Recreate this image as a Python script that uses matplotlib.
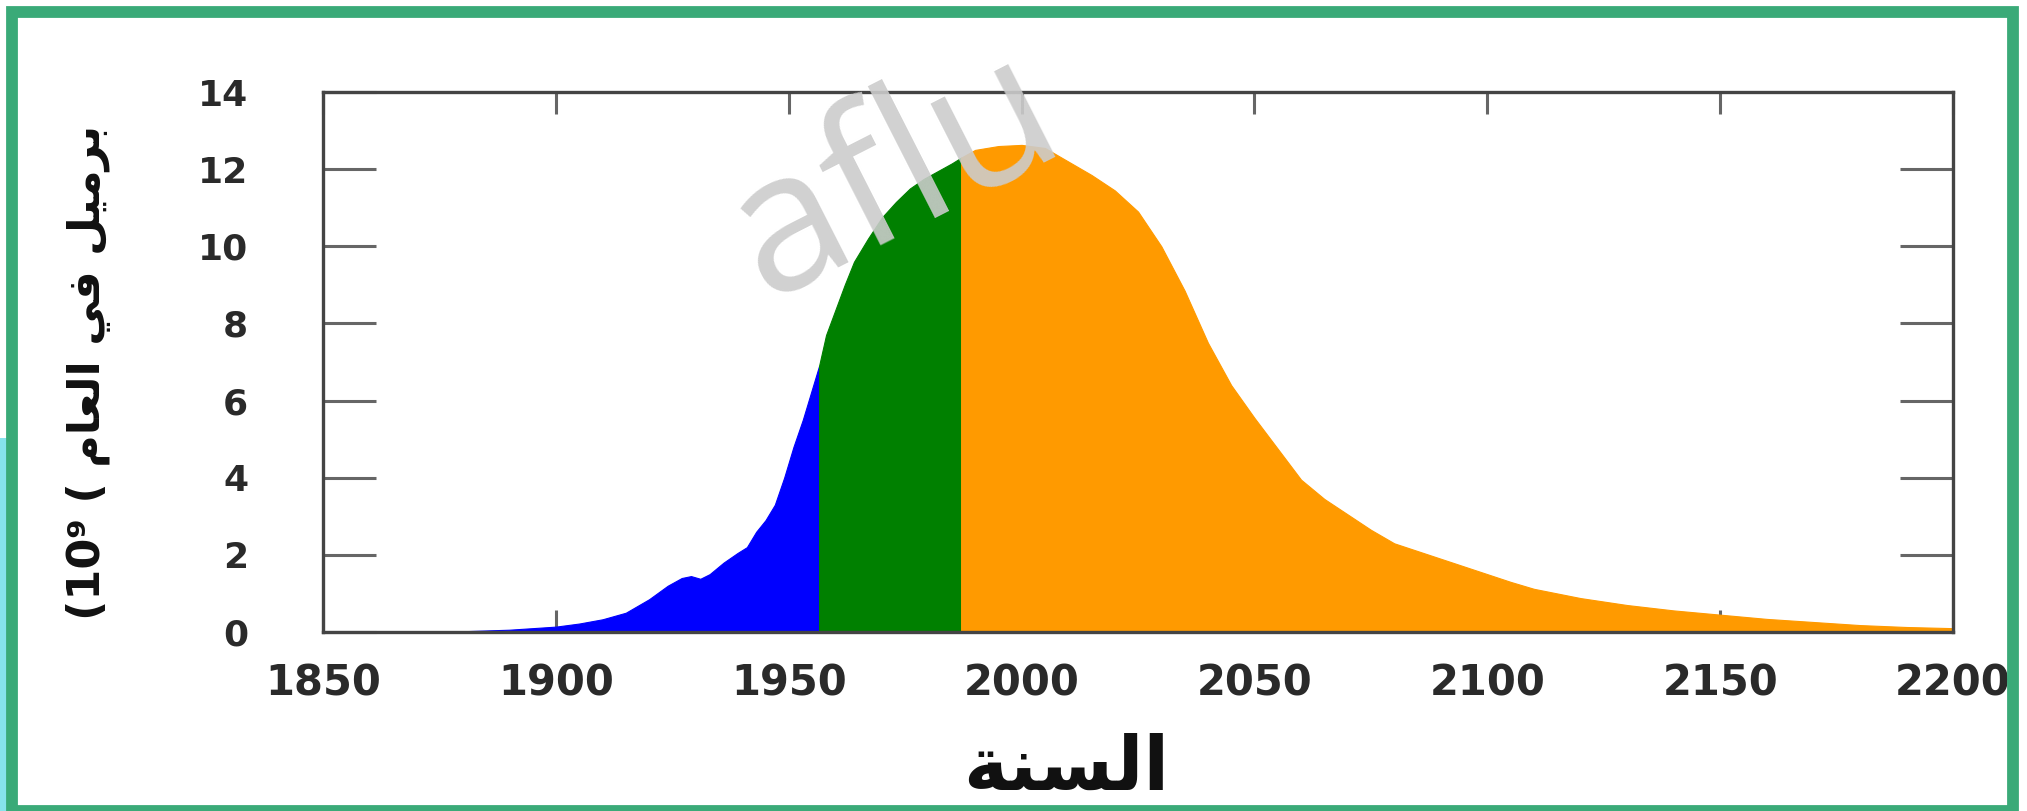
import matplotlib

matplotlib.use("Agg")
import matplotlib.pyplot as plt
from matplotlib.patches import Rectangle

# production curve (10^9 barrels per year)
years_hist = [1850, 1870, 1880, 1890, 1900, 1905, 1910, 1915, 1920, 1924, 1927, 1929,
              1931, 1933, 1936, 1939, 1941, 1943, 1945, 1947, 1949, 1951, 1953, 1955, 1956.5]
vals_hist = [0.0, 0.0, 0.02, 0.06, 0.14, 0.22, 0.33, 0.5, 0.85, 1.2, 1.4, 1.45,
             1.38, 1.5, 1.8, 2.05, 2.2, 2.6, 2.9, 3.3, 4.0, 4.8, 5.5, 6.3, 6.9]

years_mid = [1956.5, 1958, 1960, 1962, 1964, 1967, 1970, 1973, 1976, 1979, 1982, 1985, 1987]
vals_mid = [6.9, 7.7, 8.35, 9.0, 9.6, 10.2, 10.75, 11.15, 11.5, 11.75, 11.95, 12.15, 12.3]

years_future = [1987, 1990, 1995, 2000, 2005, 2010, 2015, 2020, 2025, 2030, 2035, 2040,
                2045, 2050, 2055, 2060, 2065, 2070, 2075, 2080, 2090, 2100, 2105, 2110,
                2120, 2130, 2140, 2150, 2160, 2170, 2180, 2190, 2200]
vals_future = [12.3, 12.5, 12.6, 12.63, 12.55, 12.2, 11.85, 11.45, 10.9, 10.0, 8.85, 7.5,
               6.4, 5.55, 4.75, 3.95, 3.45, 3.05, 2.65, 2.3, 1.9, 1.5, 1.3, 1.12,
               0.88, 0.7, 0.56, 0.45, 0.34, 0.26, 0.18, 0.13, 0.1]

x_ticks = [1850, 1900, 1950, 2000, 2050, 2100, 2150, 2200]
y_ticks = [0, 2, 4, 6, 8, 10, 12, 14]

X_LABEL = "السنة"
Y_LABEL_WORDS = "برميل في العام"
Y_LABEL_UNIT = "(10⁹ ("
WATERMARK = "aflu"

# matplotlib has no arabic shaping, so pick presentation forms by hand
# letter: (isolated, final, initial, medial)
FORMS = {
    "ا": ("\uFE8D", "\uFE8E", None, None),
    "ب": ("\uFE8F", "\uFE90", "\uFE91", "\uFE92"),
    "ة": ("\uFE93", "\uFE94", None, None),
    "ر": ("\uFEAD", "\uFEAE", None, None),
    "س": ("\uFEB1", "\uFEB2", "\uFEB3", "\uFEB4"),
    "ع": ("\uFEC9", "\uFECA", "\uFECB", "\uFECC"),
    "ف": ("\uFED1", "\uFED2", "\uFED3", "\uFED4"),
    "ل": ("\uFEDD", "\uFEDE", "\uFEDF", "\uFEE0"),
    "م": ("\uFEE1", "\uFEE2", "\uFEE3", "\uFEE4"),
    "ن": ("\uFEE5", "\uFEE6", "\uFEE7", "\uFEE8"),
    "ي": ("\uFEF1", "\uFEF2", "\uFEF3", "\uFEF4"),
}


def shape_word(word):
    out = []
    for i, ch in enumerate(word):
        iso, fin, ini, med = FORMS[ch]
        joins_prev = i > 0 and FORMS[word[i - 1]][2] is not None
        joins_next = i < len(word) - 1 and ini is not None
        if joins_prev and joins_next:
            out.append(med)
        elif joins_prev:
            out.append(fin)
        elif joins_next:
            out.append(ini)
        else:
            out.append(iso)
    return "".join(reversed(out))


def rtl(text):
    return " ".join(shape_word(w) for w in reversed(text.split()))


plt.rcParams["font.family"] = ["DejaVu Sans"]

fig = plt.figure(figsize=(20.27, 8.11), dpi=100)
ax = fig.add_axes([0.1594, 0.2207, 0.8041, 0.6658])

ax.fill_between(years_hist, vals_hist, color="#0000FF", linewidth=0.8)
ax.fill_between(years_mid, vals_mid, color="#008000", linewidth=0.8)
ax.fill_between(years_future, vals_future, color="#FF9A00", linewidth=0.8)

ax.set_xlim(1850, 2200)
ax.set_ylim(0, 14)
ax.set_xticks(x_ticks)
ax.set_yticks(y_ticks)
ax.set_axisbelow(True)

ax.tick_params(axis="x", direction="in", length=16, width=2.2, color="#666666",
               top=True, bottom=True, pad=22, labelsize=30, labelcolor="#2a2a2a")
ax.tick_params(axis="y", direction="in", length=38, width=2.2, color="#666666",
               left=True, right=True, pad=54, labelsize=26, labelcolor="#2a2a2a")
for lab in ax.get_xticklabels() + ax.get_yticklabels():
    lab.set_fontweight("bold")

for spine in ax.spines.values():
    spine.set_color("#444444")
    spine.set_linewidth(2.4)

ax.set_xlabel(rtl(X_LABEL), fontsize=54, fontweight="bold", color="#111111", va="center")
ax.xaxis.set_label_coords(0.456, -0.255)
ax.set_ylabel(Y_LABEL_UNIT + " " + rtl(Y_LABEL_WORDS), fontsize=32, fontweight="bold",
              color="#111111", va="center")
ax.yaxis.set_label_coords(-0.144, 0.48)

# watermark over the chart, kept inside the canvas
fig.text(765 / 2027, 1 - 300 / 811, WATERMARK, rotation=27, rotation_mode="anchor",
         ha="left", va="baseline", fontsize=140, family="Open Sans",
         color="#cccccc", alpha=0.9, zorder=5)

# green frame and the cyan strip outside it
fig.patches.append(Rectangle((0, 0), 7 / 2027, 0.46, transform=fig.transFigure,
                             facecolor="#86e3ec", edgecolor="none", zorder=0))
fig.patches.append(Rectangle((11.5 / 2027, 0.0), (2013 - 11.5) / 2027, 1 - 11.5 / 811,
                             transform=fig.transFigure, facecolor="none",
                             edgecolor="#3aaa78", linewidth=8.5))

fig.savefig("out.png", dpi=100)
